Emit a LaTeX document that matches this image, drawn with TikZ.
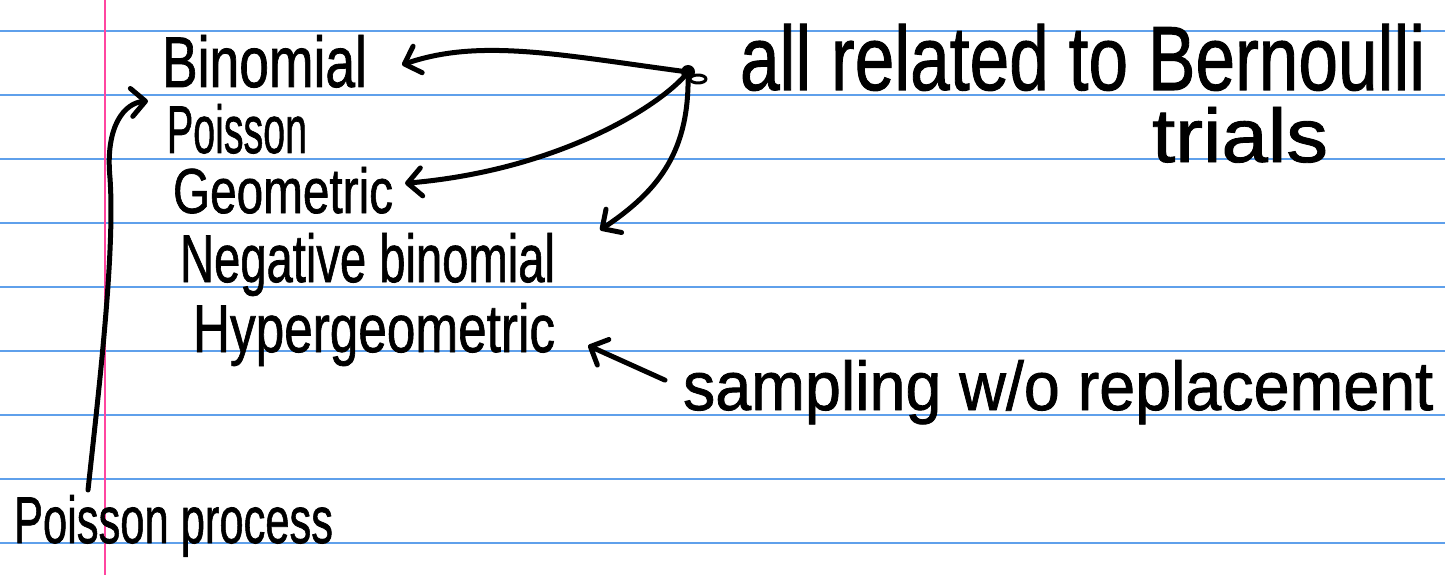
\documentclass[tikz,border=0pt]{standalone}
\usepackage{fontspec}
\usepackage{graphicx}
\newfontfamily\handfont[FakeBold=1.2]{Liberation Sans}
\usetikzlibrary{arrows.meta,calc}
\definecolor{ruleblue}{RGB}{95,160,235}
\definecolor{marginpink}{RGB}{255,70,160}
\newcommand{\hw}[3]{\resizebox{#1pt}{#2pt}{\handfont #3}}
\begin{document}
\begin{tikzpicture}[x=1pt,y=-1pt,
  ruling/.style={ruleblue, line width=1.3pt},
  marginline/.style={marginpink, line width=2.2pt},
  hand/.style={inner sep=0pt, outer sep=0pt, anchor=base west, text=black},
  ink/.style={black, line width=5pt, line cap=round, line join=round},
  arr/.style={ink, -{Straight Barb[length=14pt,width=28pt,round]}}]
\fill[white] (0,0) rectangle (1445,575);
\useasboundingbox (0,0) rectangle (1445,575);
\foreach \k in {0,...,8} \draw[ruling] (0,31+64*\k) -- (1445,31+64*\k);
\draw[marginline] (105,0) -- (105,575);

% texts
\node[hand] (binom)  at (162,87)  {\hw{205}{52}{Binomial}};
\node[hand] (pois)   at (167,153) {\hw{140}{49}{Poisson}};
\node[hand] (geom)   at (173,213) {\hw{220}{46}{Geometric}};
\node[hand] (negbin) at (180,282) {\hw{375}{49}{Negative binomial}};
\node[hand] (hyper)  at (193,352) {\hw{362}{49}{Hypergeometric}};
\node[hand] (pp)     at (14,543)  {\hw{319}{48}{Poisson process}};
\node[hand] (bern)   at (740,90)  {\hw{685}{66}{all related to Bernoulli}};
\node[hand] (trials) at (1152,162){\hw{176}{55}{trials}};
\node[hand] (samp)   at (683,410) {\hw{750}{50}{sampling w/o replacement}};

% hub dot
\coordinate (dot) at (688,72);
\fill (dot) circle (7);
\draw[ink, line width=3pt] (698,79) ellipse [x radius=8, y radius=4];

% connectors
\draw[arr] (dot) .. controls (560,55) and (480,38) .. ($(binom.east)+(35,3.5)$);
\draw[arr] (dot) .. controls (662,105) and (560,170) .. ($(geom.east)+(12,-7)$);
\draw[arr] (dot) .. controls (690,150) and (660,190) .. ($(negbin.north east)+(45,-3)$);
\draw[arr] ($(samp.west)+(-18,-12)$) -- ($(hyper.east)+(33,11)$);
\draw[arr] ($(pp.north west)+(74,-5)$) .. controls (100,380) and (115,250) .. (110,178)
           .. controls (105,125) and (125,103) .. ($(pois.north west)+(-19,-3)$);
\end{tikzpicture}
\end{document}
